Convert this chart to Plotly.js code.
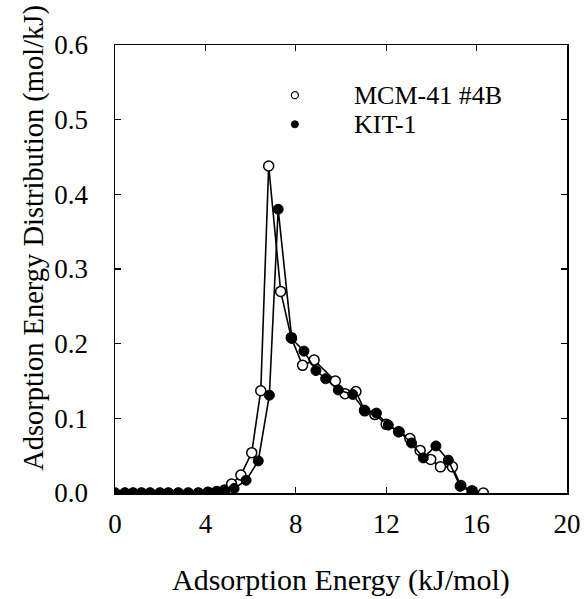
<!DOCTYPE html>
<html>
<head>
<meta charset="utf-8">
<script src="https://cdn.plot.ly/plotly-3.0.1.min.js"></script>
<style>html,body{margin:0;padding:0;background:#fff;}#chart{width:586px;height:599px;}</style>
</head>
<body>
<div id="chart"></div>
<script>
// MCM-41 #4B (open circles)
const mcmEnergy = [0, 0.44, 0.8, 1.17, 1.55, 1.99, 2.36, 2.8, 3.24, 3.69, 4.12, 4.5, 4.85, 5.16, 5.57, 6.05, 6.45, 6.8, 7.33, 7.8, 8.3, 8.81, 9.75, 10.18, 10.66, 11.05, 11.5, 12.0, 12.55, 13.05, 13.5, 13.97, 14.4, 14.93, 15.3, 15.8, 16.3];
const mcmValue  = [0, 0, 0, 0, 0, 0, 0, 0, 0, 0, 0.001, 0.002, 0.004, 0.012, 0.024, 0.054, 0.137, 0.438, 0.270, 0.208, 0.171, 0.178, 0.150, 0.133, 0.136, 0.110, 0.105, 0.092, 0.082, 0.073, 0.057, 0.045, 0.035, 0.035, 0.010, 0.003, 0.0];
// KIT-1 (filled circles)
const kitEnergy = [0, 0.44, 0.8, 1.17, 1.55, 1.99, 2.36, 2.8, 3.24, 3.69, 4.1, 4.5, 4.85, 5.27, 5.8, 6.34, 6.83, 7.22, 7.82, 8.36, 8.89, 9.32, 9.88, 10.52, 11.03, 11.57, 12.09, 12.58, 13.12, 13.64, 14.2, 14.75, 15.27, 15.8];
const kitValue  = [0, 0, 0, 0, 0, 0, 0, 0, 0, 0, 0.001, 0.002, 0.003, 0.006, 0.017, 0.043, 0.131, 0.380, 0.207, 0.190, 0.164, 0.153, 0.138, 0.132, 0.111, 0.107, 0.091, 0.082, 0.067, 0.047, 0.063, 0.044, 0.009, 0.002];
const seriesNames = ["MCM-41 #4B", "KIT-1"];
const xTicks = [0, 4, 8, 12, 16, 20];
const yTicks = [0.0, 0.1, 0.2, 0.3, 0.4, 0.5, 0.6];
const xTitle = "Adsorption Energy (kJ/mol)";
const yTitle = "Adsorption Energy Distribution (mol/kJ)";

const font = "Liberation Serif, serif";
const tickSize = 27;

const traces = [
  {x: mcmEnergy, y: mcmValue, mode: "lines+markers", name: seriesNames[0],
   line: {color: "#000", width: 1.6},
   marker: {symbol: "circle", size: 10, color: "#fff", line: {color: "#000", width: 1.5}}},
  {x: kitEnergy, y: kitValue, mode: "lines+markers", name: seriesNames[1],
   line: {color: "#000", width: 1.6},
   marker: {symbol: "circle", size: 10, color: "#000", line: {color: "#000", width: 1}}}
];

// legend drawn as shapes + text annotations, positioned in paper coordinates
const legX = 0.398, legTextX = 0.527, legY = [0.888, 0.823];
const rx = 0.0078, ry = 0.0079;
const shapes = [
  {type: "circle", xref: "paper", yref: "paper", x0: legX - rx, x1: legX + rx, y0: legY[0] - ry, y1: legY[0] + ry,
   line: {color: "#000", width: 1.2}, fillcolor: "#fff"},
  {type: "circle", xref: "paper", yref: "paper", x0: legX - rx, x1: legX + rx, y0: legY[1] - ry, y1: legY[1] + ry,
   line: {color: "#000", width: 1}, fillcolor: "#000"}
];
const annotations = seriesNames.map((n, i) => ({
  text: n, xref: "paper", yref: "paper", x: legTextX, y: legY[i], xanchor: "left", yanchor: "middle",
  showarrow: false, font: {family: font, size: 26, color: "#000"}, borderpad: 0
}));
annotations.push({
  text: xTitle, xref: "paper", yref: "paper", x: 0.5, y: -0.194, xanchor: "center", yanchor: "middle",
  showarrow: false, font: {family: font, size: 30, color: "#000"}, borderpad: 0
});
annotations.push({
  text: yTitle, xref: "paper", yref: "paper", x: -0.181, y: 0.57, xanchor: "center", yanchor: "middle",
  textangle: -90, showarrow: false, font: {family: font, size: 28.5, color: "#000"}, borderpad: 0
});

const layout = {
  width: 586, height: 599,
  margin: {l: 115, r: 19, t: 45, b: 106},
  paper_bgcolor: "#fff", plot_bgcolor: "#fff",
  font: {family: font, size: tickSize, color: "#000"},
  showlegend: false,
  shapes: shapes,
  annotations: annotations,
  xaxis: {
    range: [0, 20], tickvals: xTicks, ticktext: xTicks.map(String),
    ticks: "inside", ticklen: 6, tickwidth: 1.2, tickcolor: "#000",
    showline: true, linecolor: "#000", linewidth: 1.5, mirror: "ticks",
    showgrid: false, zeroline: false, ticklabelstandoff: 6,
    tickfont: {family: font, size: tickSize, color: "#000"}
  },
  yaxis: {
    range: [0, 0.6], tickvals: yTicks, ticktext: yTicks.map(v => v.toFixed(1)),
    ticks: "inside", ticklen: 6, tickwidth: 1.2, tickcolor: "#000",
    showline: true, linecolor: "#000", linewidth: 1.5, mirror: "ticks",
    showgrid: false, zeroline: false, ticklabelstandoff: 20,
    tickfont: {family: font, size: tickSize, color: "#000"}
  }
};

Plotly.newPlot("chart", traces, layout, {displayModeBar: false, staticPlot: true});
</script>
</body>
</html>
